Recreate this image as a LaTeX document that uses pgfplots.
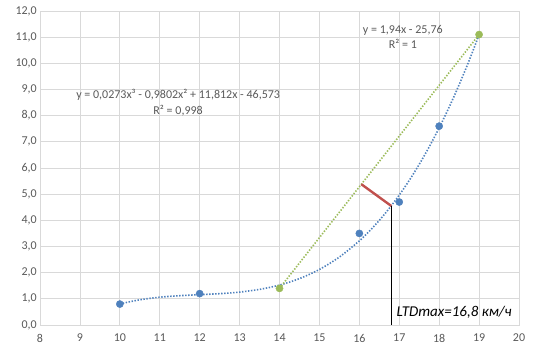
\documentclass[border=0pt]{standalone}
\usepackage{pgfplots}
\pgfplotsset{compat=1.18}
\usepackage{fontspec}
\setmainfont{Carlito}
\definecolor{txt}{RGB}{89,89,89}
\definecolor{gridc}{RGB}{217,217,217}
\definecolor{xblue}{RGB}{79,129,189}
\definecolor{xgreen}{RGB}{155,187,89}
\definecolor{xred}{RGB}{192,80,77}
\begin{document}
\begin{tikzpicture}
\useasboundingbox (0,0) rectangle (538pt,354pt);
\begin{axis}[
  at={(40pt,29pt)}, anchor=south west,
  scale only axis, width=479pt, height=314pt,
  xmin=8, xmax=20, ymin=0, ymax=12,
  xtick={8,9,...,20}, ytick={0,1,...,12},
  grid=major, grid style={draw=gridc, line width=0.8pt},
  axis line style={draw=gridc, line width=0.8pt},
  major tick length=0pt,
  tick label style={font=\fontsize{12pt}{14pt}\selectfont, text=txt},
  /pgf/number format/assume math mode=true,
  yticklabel style={/pgf/number format/use comma, /pgf/number format/fixed, /pgf/number format/fixed zerofill, /pgf/number format/precision=1, inner sep=0pt, xshift=-3pt},
  xticklabel style={inner sep=0pt, yshift=-9pt},
  clip=false,
]
% cubic trendline (blue, dotted)
\addplot[xblue, line width=1.6pt, dash pattern=on 1.4pt off 1.6pt, smooth] coordinates {
(10,0.806) (10.5,0.964) (11,1.062) (11.5,1.120) (12,1.159) (12.5,1.198) (13,1.258)
(13.5,1.361) (14,1.525) (14.5,1.773) (15,2.123) (15.5,2.597) (16,3.215) (16.25,3.584)
(16.5,3.998) (16.75,4.457) (17,4.965) (17.25,5.525) (17.5,6.138) (17.75,6.808)
(18,7.537) (18.25,8.327) (18.5,9.182) (18.75,10.103) (19,11.094)};
% linear trendline (green, dotted)
\addplot[xgreen, line width=1.6pt, dash pattern=on 1.4pt off 1.6pt] coordinates {(14,1.4) (19,11.1)};
% red segment
\addplot[xred, line width=2.4pt] coordinates {(16.05,5.38) (16.8,4.55)};
% black vertical
\addplot[black, line width=0.8pt] coordinates {(16.8,0) (16.8,4.55)};
% blue points
\addplot[only marks, mark=*, mark size=3.6pt, color=xblue] coordinates {
(10,0.8) (12,1.2) (16,3.5) (17,4.7) (18,7.6)};
% green points
\addplot[only marks, mark=*, mark size=3.6pt, color=xgreen] coordinates {(14,1.4) (19,11.1)};
\node[align=center, text=txt, font=\fontsize{12pt}{15.5pt}\selectfont] at (axis cs:11.46,8.5)
  {y = 0,0273x³ - 0,9802x² + 11,812x - 46,573\\R² = 0,998};
\node[align=center, text=txt, font=\fontsize{12pt}{15.5pt}\selectfont] at (axis cs:17.09,11.0)
  {y = 1,94x - 25,76\\R² = 1};
\node[anchor=west, inner sep=0pt, font=\fontsize{15pt}{18pt}\itshape] at (axis cs:16.93,0.5)
  {LTDmax=16,8 км/ч};
\end{axis}
\end{tikzpicture}
\end{document}
